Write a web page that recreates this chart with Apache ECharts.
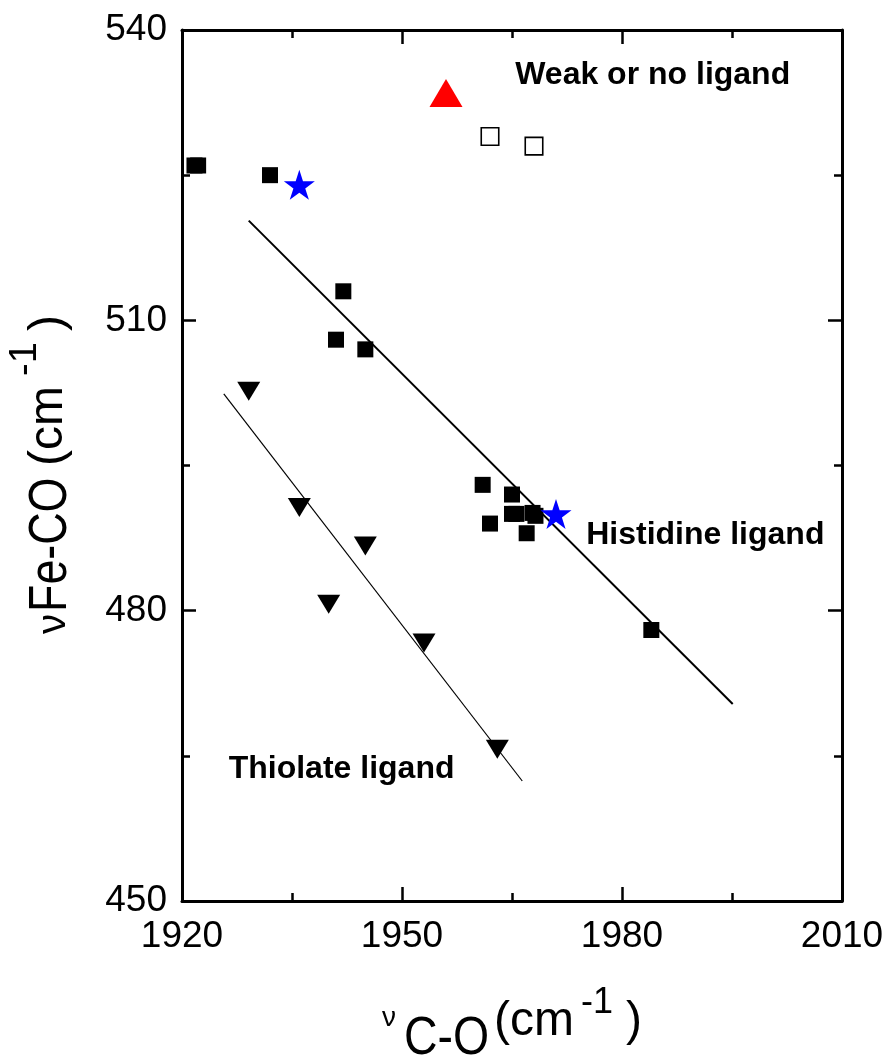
<!DOCTYPE html>
<html>
<head>
<meta charset="utf-8">
<script src="https://cdn.jsdelivr.net/npm/echarts@6/dist/echarts.min.js"></script>
<style>
  html, body { margin: 0; padding: 0; background: #ffffff; }
  #chart { width: 891px; height: 1057px; }
</style>
</head>
<body>
<div id="chart"></div>
<script>
// Fe-CO stretch vs C-O stretch for carbonyl heme proteins, grouped by proximal ligand

// Axis tick values
const xTickValues = [1920, 1950, 1980, 2010];
const yTickValues = [450, 480, 510, 540];

// Histidine-ligated proteins (filled squares): [νC-O, νFe-CO]
const histidineSquares = [
  [1921.7, 526], [1922.2, 526], [1932, 525], [1942, 513], [1941, 508], [1945, 507],
  [1961, 493], [1965, 492], [1965, 490], [1965.6, 490], [1967.8, 490.1], [1968.2, 489.8],
  [1962, 489], [1967, 488], [1984, 478]
];
// Weak or no proximal ligand (open squares)
const weakLigandSquares = [[1962, 529], [1968, 528]];
// No proximal ligand (red triangle)
const redTriangle = [[1956, 533]];
// Blue stars
const starPoints = [[1936, 524], [1971, 490]];
// Thiolate-ligated proteins (down triangles)
const thiolateTriangles = [
  [1929.1, 503], [1936, 491], [1945, 487], [1940, 481], [1953, 477], [1963, 466]
];
// Linear correlation lines (end points)
const histidineFit = [[1929.1, 520.3], [1995.1, 470.35]];
const thiolateFit = [[1925.7, 502.4], [1966.4, 462.4]];

// Group labels placed in data coordinates
const groupLabels = ['Weak or no ligand', 'Histidine ligand', 'Thiolate ligand'];
const groupLabelCoords = [[1965.37, 535.3], [1975.05, 487.75], [1926.3, 463.59]];

const FONT = '"Liberation Sans", Arial, Helvetica, sans-serif';
const STAR = 'path://M0,-100L22.45,-30.9L95.11,-30.9L36.33,11.8L58.78,80.9L0,38.2L-58.78,80.9L-36.33,11.8L-95.11,-30.9L-22.45,-30.9Z';

const xMin = xTickValues[0], xMax = xTickValues[xTickValues.length - 1];
const yMin = yTickValues[0], yMax = yTickValues[yTickValues.length - 1];
const xStep = xTickValues[1] - xTickValues[0];
const yStep = yTickValues[1] - yTickValues[0];

function makeAxis(kind, position, showLabels) {
  const isX = kind === 'x';
  return {
    type: 'value',
    position: position,
    min: isX ? xMin : yMin,
    max: isX ? xMax : yMax,
    interval: isX ? xStep : yStep,
    axisLine: { show: true, onZero: false, lineStyle: { color: '#000', width: 3 } },
    axisTick: { show: true, inside: true, length: 14, lineStyle: { color: '#000', width: 2.5 } },
    minorTick: { show: true, splitNumber: 2, length: 8, lineStyle: { color: '#000', width: 2.5 } },
    splitLine: { show: false },
    minorSplitLine: { show: false },
    axisLabel: {
      show: showLabels,
      color: '#000',
      fontSize: 37,
      fontFamily: FONT,
      margin: isX ? 17 : 15,
      showMinLabel: true,
      showMaxLabel: true,
      hideOverlap: false,
      formatter: v => String(v)
    }
  };
}

// Axis title pieces: text, anchor (left x / start y), baseline, font size, horizontal squeeze
const xTitlePieces = [
  { t: 'ν', x: 382, base: 1028, size: 28, sx: 1 },
  { t: 'C-O', x: 404, base: 1057, size: 54, sx: 0.86 },
  { t: '(cm', x: 494, base: 1038, size: 48, sx: 1 },
  { t: '-1', x: 581, base: 1015, size: 36, sx: 1 },
  { t: ')', x: 626, base: 1038, size: 48, sx: 1 }
];
const yTitlePieces = [
  { t: 'ν', y: 634, base: 67, size: 40, sx: 1 },
  { t: 'Fe-CO', y: 612, base: 69, size: 54, sx: 0.83 },
  { t: '(cm', y: 466, base: 65, size: 48, sx: 1 },
  { t: '-1', y: 376, base: 38, size: 38, sx: 1 },
  { t: ')', y: 331, base: 65, size: 48, sx: 1 }
];

function textEl(text, size, x, y, rotation, sx) {
  return {
    type: 'text',
    x: x, y: y,
    rotation: rotation,
    scaleX: sx,
    silent: true,
    style: {
      text: text,
      fontSize: size,
      fontFamily: FONT,
      fill: '#000',
      align: 'left',
      verticalAlign: 'middle',
      textAlign: 'left',
      textVerticalAlign: 'middle'
    }
  };
}

const graphics = [];
xTitlePieces.forEach(p => {
  graphics.push(textEl(p.t, p.size, p.x, p.base - 0.33 * p.size, 0, p.sx));
});
yTitlePieces.forEach(p => {
  graphics.push(textEl(p.t, p.size, p.base - 0.33 * p.size, p.y, Math.PI / 2, p.sx));
});

const chart = echarts.init(document.getElementById('chart'), null, { renderer: 'canvas' });

chart.setOption({
  animation: false,
  backgroundColor: '#ffffff',
  grid: { left: 182, top: 30, width: 660, height: 871, containLabel: false, outerBoundsMode: 'none' },
  xAxis: [makeAxis('x', 'bottom', true), makeAxis('x', 'top', false)],
  yAxis: [makeAxis('y', 'left', true), makeAxis('y', 'right', false)],
  graphic: graphics,
  series: [
    {
      name: 'Histidine fit', type: 'line', data: histidineFit,
      symbol: 'none', silent: true, z: 1,
      lineStyle: { color: '#000', width: 2 }
    },
    {
      name: 'Thiolate fit', type: 'line', data: thiolateFit,
      symbol: 'none', silent: true, z: 1,
      lineStyle: { color: '#000', width: 1.2 }
    },
    {
      name: 'Histidine', type: 'scatter', data: histidineSquares,
      symbol: 'rect', symbolSize: 16, z: 3,
      itemStyle: { color: '#000', opacity: 1 }
    },
    {
      name: 'Weak or no ligand', type: 'scatter', data: weakLigandSquares,
      symbol: 'rect', symbolSize: 17.5, z: 3,
      itemStyle: { color: '#fff', borderColor: '#000', borderWidth: 1.6, opacity: 1 }
    },
    {
      name: 'No ligand', type: 'scatter', data: redTriangle,
      symbol: 'triangle', symbolSize: [33, 28], symbolOffset: [0, -4.7], z: 3,
      itemStyle: { color: '#ff0000', opacity: 1 }
    },
    {
      name: 'Stars', type: 'scatter', data: starPoints,
      symbol: STAR, symbolSize: [31, 30], z: 4,
      itemStyle: { color: '#0000ff', opacity: 1 }
    },
    {
      name: 'Thiolate', type: 'scatter', data: thiolateTriangles,
      symbol: 'triangle', symbolRotate: 180, symbolSize: [23, 19], symbolOffset: [0, 3.2], z: 3,
      itemStyle: { color: '#000', opacity: 1 }
    },
    {
      name: 'Group labels', type: 'scatter', silent: true, z: 5,
      data: groupLabels.map((name, i) => ({ name: name, value: groupLabelCoords[i] })),
      symbol: 'circle',
      symbolSize: 1,
      itemStyle: { color: 'rgba(255,255,255,0)', opacity: 1 },
      label: {
        show: true, position: 'right', distance: 0,
        formatter: '{b}', opacity: 1,
        color: '#000', fontSize: 32, fontWeight: 'bold', fontFamily: FONT
      }
    }
  ]
});
</script>
</body>
</html>
